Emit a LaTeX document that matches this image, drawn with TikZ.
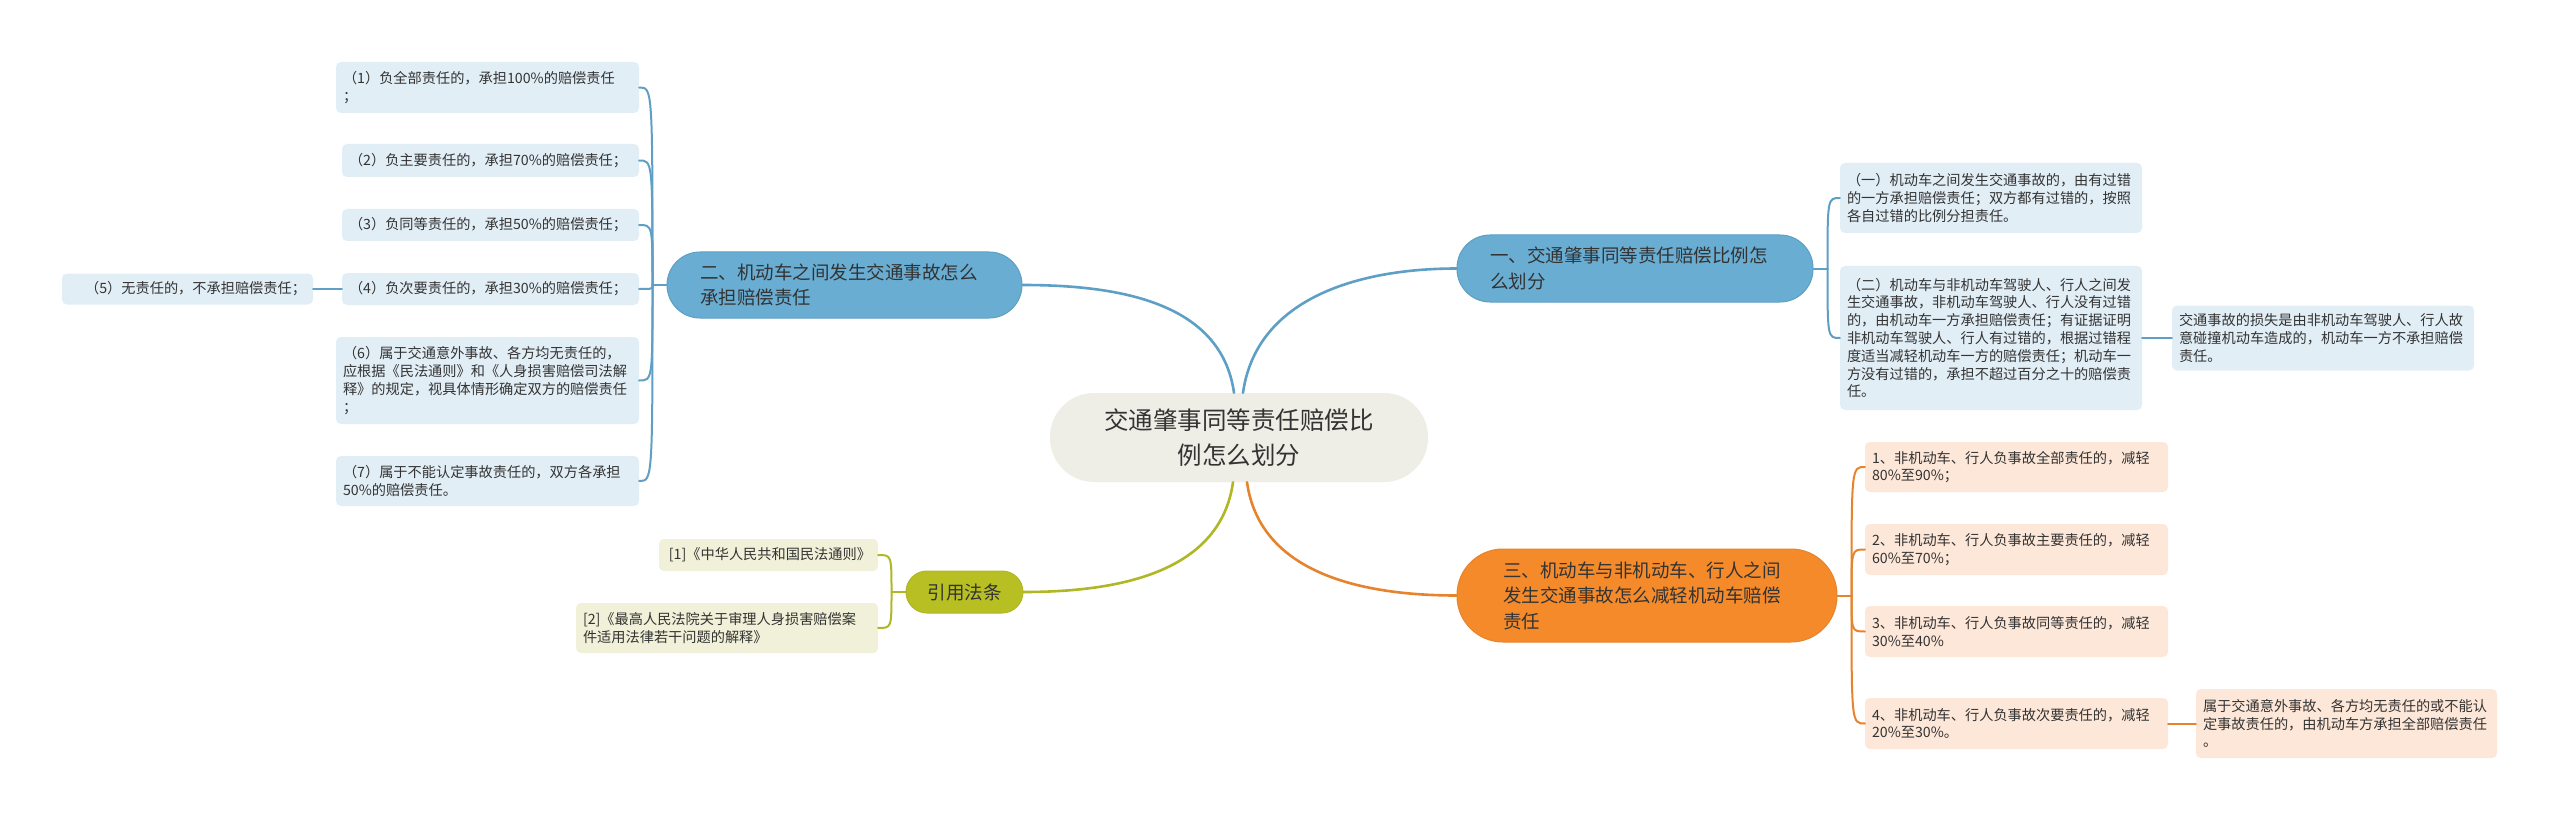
\documentclass[tikz,border=0pt]{standalone}
\usepackage{fontspec}
\setmainfont{Noto Sans CJK SC}
\definecolor{txt}{HTML}{333333}
\definecolor{rootbg}{HTML}{EFEEE6}
\definecolor{blufill}{HTML}{69ADD3}
\definecolor{bluline}{HTML}{5E9FC5}
\definecolor{bluleaf}{HTML}{E2EEF6}
\definecolor{orafill}{HTML}{F58A2B}
\definecolor{oraline}{HTML}{E5842C}
\definecolor{oraleaf}{HTML}{FDE7D8}
\definecolor{grnfill}{HTML}{B8BF22}
\definecolor{grnline}{HTML}{B0B726}
\definecolor{grnleaf}{HTML}{F0F1D8}

\begin{document}
\begin{tikzpicture}[x=1pt,y=-1pt,
  lnk/.style={line width=2pt,line cap=round},
  mainnode/.style={fill=rootbg,text=txt,align=center,inner xsep=45pt,inner ysep=0pt,
    text width=288pt,minimum height=89pt,rounded corners=44pt,font=\fontsize{24.5}{35}\selectfont},
  subnode/.style={text=txt,align=left,inner xsep=33pt,inner ysep=0pt,line width=1pt,
    font=\fontsize{18.5}{25.5}\selectfont},
  leafnode/.style={text=txt,align=left,inner xsep=7pt,inner ysep=0pt,rounded corners=5pt,
    font=\fontsize{14.2}{17.8}\selectfont}]
  \fill[white] (0,0) rectangle (2560,821);
  \useasboundingbox (0,0) rectangle (2560,821);
  % 中心主题
  \node[mainnode] (root) at (1239,437.5) {交通肇事同等责任赔偿比\\例怎么划分};
  % 分支
  \node[subnode,fill=blufill,draw=bluline,rounded corners=33pt,text width=290pt,minimum height=67pt]
    (b1) at (1635,268.5) {一、交通肇事同等责任赔偿比例怎\\么划分};
  \node[subnode,fill=blufill,draw=bluline,rounded corners=33pt,text width=289pt,minimum height=66pt]
    (b2) at (844.5,285) {二、机动车之间发生交通事故怎么\\承担赔偿责任};
  \node[subnode,fill=orafill,draw=oraline,rounded corners=46pt,inner xsep=46pt,text width=288pt,minimum height=93pt]
    (b3) at (1647,595.5) {三、机动车与非机动车、行人之间\\发生交通事故怎么减轻机动车赔偿\\责任};
  \node[subnode,fill=grnfill,draw=grnline,rounded corners=21pt,inner xsep=0pt,align=center,text width=117pt,minimum height=42pt]
    (b4) at (964.5,592) {引用法条};
  % 二 的子项
  \node[leafnode,fill=bluleaf,text width=289pt,minimum height=51pt] (la) at (487.5,87.5) {（1）负全部责任的，承担100\%的赔偿责任\\；};
  \node[leafnode,fill=bluleaf,text width=283pt,minimum height=33pt] (lb) at (490.5,160.5) {（2）负主要责任的，承担70\%的赔偿责任；};
  \node[leafnode,fill=bluleaf,text width=283pt,minimum height=32pt] (lc) at (490.5,225) {（3）负同等责任的，承担50\%的赔偿责任；};
  \node[leafnode,fill=bluleaf,text width=283pt,minimum height=32pt] (ld) at (490.5,289) {（4）负次要责任的，承担30\%的赔偿责任；};
  \node[leafnode,fill=bluleaf,align=right,text width=237pt,minimum height=31pt] (le) at (187.5,289) {（5）无责任的，不承担赔偿责任；};
  \node[leafnode,fill=bluleaf,text width=289pt,minimum height=87pt] (lf) at (487.5,380.5) {（6）属于交通意外事故、各方均无责任的，\\应根据《民法通则》和《人身损害赔偿司法解\\释》的规定，视具体情形确定双方的赔偿责任\\；};
  \node[leafnode,fill=bluleaf,text width=289pt,minimum height=50pt] (lg) at (487.5,481) {（7）属于不能认定事故责任的，双方各承担\\50\%的赔偿责任。};
  % 一 的子项
  \node[leafnode,fill=bluleaf,text width=288pt,minimum height=70pt] (ra) at (1991,198) {（一）机动车之间发生交通事故的，由有过错\\的一方承担赔偿责任；双方都有过错的，按照\\各自过错的比例分担责任。};
  \node[leafnode,fill=bluleaf,text width=288pt,minimum height=144pt] (rb) at (1991,338) {（二）机动车与非机动车驾驶人、行人之间发\\生交通事故，非机动车驾驶人、行人没有过错\\的，由机动车一方承担赔偿责任；有证据证明\\非机动车驾驶人、行人有过错的，根据过错程\\度适当减轻机动车一方的赔偿责任；机动车一\\方没有过错的，承担不超过百分之十的赔偿责\\任。};
  \node[leafnode,fill=bluleaf,text width=288pt,minimum height=65pt] (rc) at (2323,338) {交通事故的损失是由非机动车驾驶人、行人故\\意碰撞机动车造成的，机动车一方不承担赔偿\\责任。};
  % 三 的子项
  \node[leafnode,fill=oraleaf,text width=289pt,minimum height=50pt] (oa) at (2016.5,467) {1、非机动车、行人负事故全部责任的，减轻\\80\%至90\%；};
  \node[leafnode,fill=oraleaf,text width=289pt,minimum height=51pt] (ob) at (2016.5,549.5) {2、非机动车、行人负事故主要责任的，减轻\\60\%至70\%；};
  \node[leafnode,fill=oraleaf,text width=289pt,minimum height=51pt] (oc) at (2016.5,631.5) {3、非机动车、行人负事故同等责任的，减轻\\30\%至40\%};
  \node[leafnode,fill=oraleaf,text width=289pt,minimum height=51pt] (od) at (2016.5,723.5) {4、非机动车、行人负事故次要责任的，减轻\\20\%至30\%。};
  \node[leafnode,fill=oraleaf,text width=287pt,minimum height=69pt] (oe) at (2346.5,723.5) {属于交通意外事故、各方均无责任的或不能认\\定事故责任的，由机动车方承担全部赔偿责任\\。};
  % 引用法条 的子项
  \node[leafnode,fill=grnleaf,align=right,text width=205pt,minimum height=32pt] (ga) at (768.5,555) {[1]《中华人民共和国民法通则》};
  \node[leafnode,fill=grnleaf,text width=288pt,minimum height=50pt] (gb) at (727,628) {[2]《最高人民法院关于审理人身损害赔偿案\\件适用法律若干问题的解释》};
  % 中心到分支
  \draw[lnk,line width=2.6pt,bluline] ([xshift=4pt]root.north) to[out=82,in=180] (b1.west);
  \draw[lnk,line width=2.6pt,bluline] ([xshift=-5pt]root.north) to[out=98,in=0] (b2.east);
  \draw[lnk,line width=2.6pt,grnline] ([xshift=-6pt]root.south) to[out=-98,in=0] (b4.east);
  \draw[lnk,line width=2.6pt,oraline] ([xshift=8pt]root.south) to[out=-82,in=180] (b3.west);
  % 分支到子项
  \coordinate (s1) at ([xshift=14pt]b1.east);
  \coordinate (s2) at ([xshift=-14pt]b2.west);
  \coordinate (s3) at ([xshift=14pt]b3.east);
  \coordinate (s4) at ([xshift=-14pt]b4.west);
  \draw[lnk,bluline] (b1.east) -- (s1);
  \draw[lnk,bluline] (b2.west) -- (s2);
  \draw[lnk,oraline] (b3.east) -- (s3);
  \draw[lnk,grnline] (b4.west) -- (s4);
  \foreach \c in {ra,rb} \draw[lnk,bluline] (s1) .. controls (s1 |- \c.west) .. (\c.west);
  \foreach \c in {la,lb,lc,ld,lf,lg} \draw[lnk,bluline] (s2) .. controls (s2 |- \c.east) .. (\c.east);
  \foreach \c in {oa,ob,oc,od} \draw[lnk,oraline] (s3) .. controls (s3 |- \c.west) .. (\c.west);
  \foreach \c in {ga,gb} \draw[lnk,grnline] (s4) .. controls (s4 |- \c.east) .. (\c.east);
  \draw[lnk,bluline] (ld.west) -- (le.east);
  \draw[lnk,bluline] (rb.east) -- (rc.west);
  \draw[lnk,oraline] (od.east) -- (oe.west);
\end{tikzpicture}
\end{document}
